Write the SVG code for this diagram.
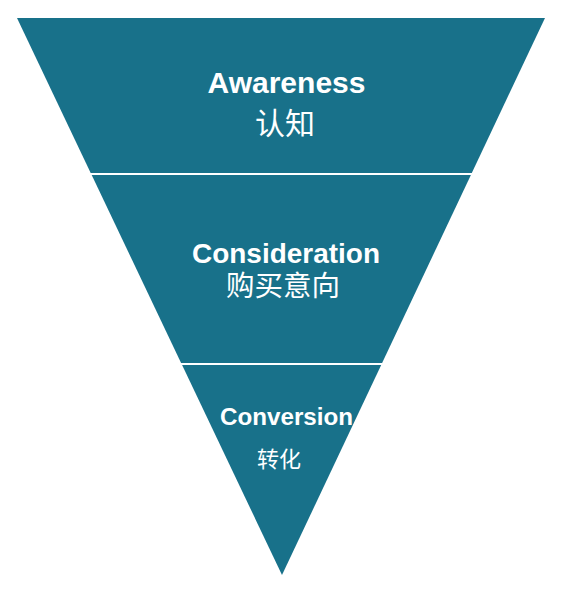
<svg xmlns="http://www.w3.org/2000/svg" width="567" height="614" viewBox="0 0 567 614">
<style>
.seg{fill:#18718a;}
.en{font-family:"Liberation Sans",Arial,sans-serif;font-weight:bold;fill:#ffffff;text-anchor:middle;}
.zh{font-family:"Noto Sans CJK SC","Noto Sans",sans-serif;fill:#ffffff;text-anchor:middle;}
</style>
<rect width="567" height="614" fill="#ffffff"/>
<g id="awareness">
<polygon class="seg" points="17,18 545,18 471.8,173 90.7,173"/>
<text class="en" x="286.5" y="93" font-size="29" textLength="158" lengthAdjust="spacingAndGlyphs">Awareness</text>
<text class="zh" x="285" y="134" font-size="30">认知</text>
</g>
<g id="consideration">
<polygon class="seg" points="91.7,175 470.9,175 382.1,363 181.1,363"/>
<text class="en" x="286" y="263" font-size="27.5" textLength="188" lengthAdjust="spacingAndGlyphs">Consideration</text>
<text class="zh" x="283" y="296" font-size="28.5">购买意向</text>
</g>
<g id="conversion">
<polygon class="seg" points="182.1,365 381.2,365 282,575"/>
<text class="en" x="286.5" y="425" font-size="24" textLength="133" lengthAdjust="spacingAndGlyphs">Conversion</text>
<text class="zh" x="279" y="467" font-size="22">转化</text>
</g>
</svg>
